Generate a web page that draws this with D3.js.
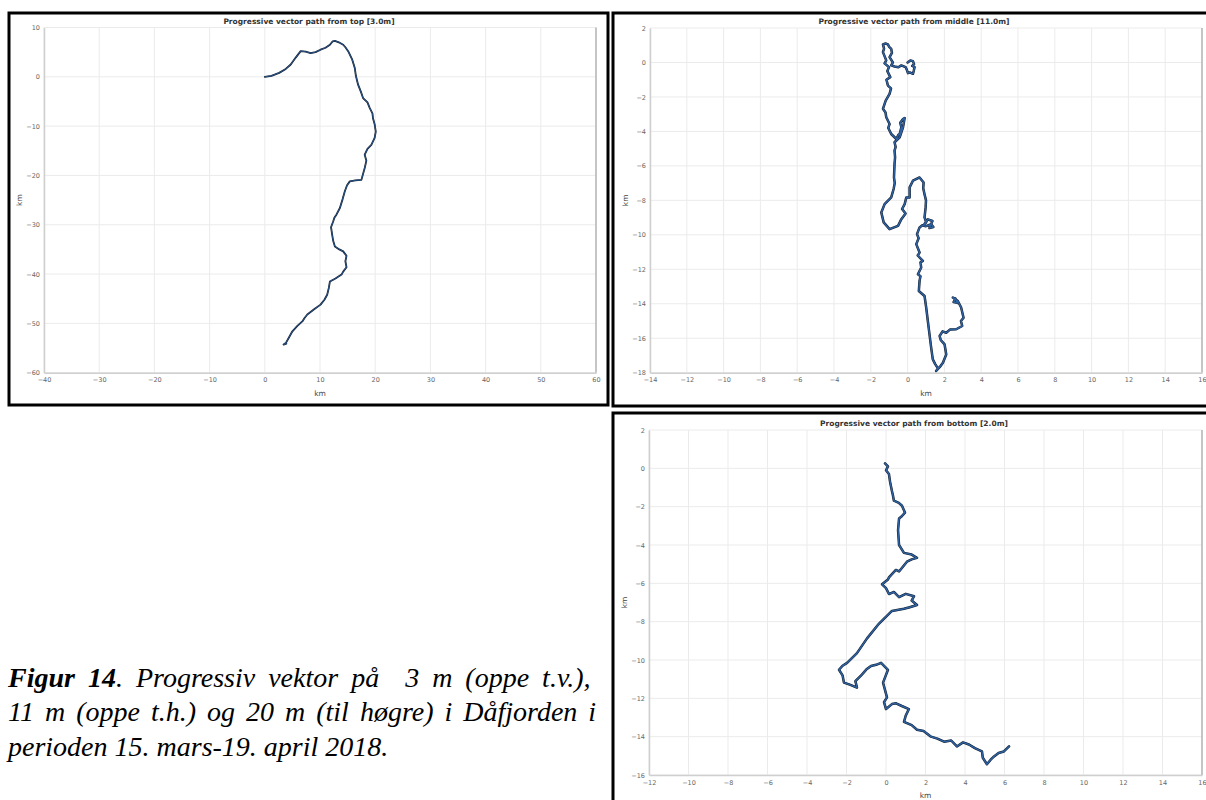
<!DOCTYPE html>
<html>
<head>
<meta charset="utf-8">
<script src="https://cdn.jsdelivr.net/npm/d3@7"></script>
<style>
  body { margin: 0; background: #fff; }
  svg { display: block; font-family: "DejaVu Sans", sans-serif; }
</style>
</head>
<body>
<svg id="chart" width="1206" height="800"></svg>
<script>
// ---- data (km east / km north) ----
const topX = [0, 1.2, 2.6, 3.8, 4.7, 5.6, 6.5, 7.4, 8.3, 9.2, 10.1, 11.0, 11.8, 12.3, 12.7, 13.4, 14.2, 14.6, 15.1, 15.8, 16.3, 16.5, 16.9, 17.4, 17.8, 18.6, 19.0, 19.5, 19.6, 19.9, 20.1, 19.9, 19.3, 18.6, 18.1, 18.4, 18.1, 17.5, 16.4, 15.4, 14.9, 14.5, 14.1, 13.6, 13.0, 12.6, 12.4, 12.0, 12.2, 12.4, 12.7, 13.5, 14.2, 14.8, 14.6, 14.8, 14.2, 13.9, 12.8, 11.8, 11.6, 11.3, 10.8, 10.1, 9.0, 7.7, 7.2, 6.8, 5.9, 5.0, 4.4, 3.8, 3.4, 3.9];
const topY = [0, 0.2, 0.8, 1.6, 2.5, 3.9, 5.2, 5.1, 4.8, 5.0, 5.5, 5.9, 6.5, 7.2, 7.3, 7.0, 6.5, 6.0, 5.2, 3.6, 1.8, 0.2, -1.6, -3.0, -4.3, -5.2, -6.3, -7.4, -8.4, -9.6, -11.1, -12.4, -13.8, -14.6, -15.8, -17.0, -18.5, -20.9, -21.0, -21.2, -22.0, -23.2, -24.8, -26.6, -27.9, -28.6, -29.3, -30.5, -32.0, -33.3, -34.4, -35.0, -35.4, -36.3, -37.4, -38.6, -39.5, -40.1, -40.9, -41.5, -42.8, -44.2, -45.2, -46.2, -47.1, -48.2, -48.9, -49.6, -50.5, -51.6, -52.8, -54.0, -54.3, -54.1];

const midX = [0, 0.15, 0.29, 0.35, 0.25, 0.38, 0.33, 0.29, 0.12, 0.02, -0.05, -0.11, -0.34, -0.5, -0.71, -0.89, -0.8, -0.98, -0.85, -0.89, -1.0, -1.07, -1.2, -1.34, -1.28, -1.34, -1.16, -1.25, -1.01, -1.1, -0.94, -1.15, -1.07, -0.9, -0.98, -1.19, -1.34, -1.2, -1.16, -0.98, -1.05, -0.89, -0.61, -0.5, -0.43, -0.34, -0.4, -0.25, -0.16, -0.25, -0.43, -0.71, -0.65, -0.71, -0.68, -0.71, -0.74, -0.7, -0.76, -0.89, -1.25, -1.43, -1.30, -0.98, -0.52, -0.34, -0.11, -0.3, -0.16, -0.07, 0.11, 0.11, 0.29, 0.65, 0.87, 0.85, 0.92, 1.0, 0.98, 0.92, 1.01, 0.9, 1.1, 1.35, 1.28, 1.4, 1.19, 1.25, 1.0, 0.8, 0.65, 0.51, 0.6, 0.47, 0.65, 0.55, 0.83, 0.7, 0.74, 0.56, 0.7, 0.65, 0.61, 0.92, 1.01, 1.10, 1.19, 1.28, 1.37, 1.5, 1.65, 1.55, 1.8, 1.92, 2.10, 2.01, 1.8, 1.74, 1.9, 2.10, 2.3, 2.64, 2.97, 2.9, 3.04, 2.91, 2.73, 2.46, 2.6, 2.5, 2.7, 2.6];
const midY = [0, 0.12, 0.08, -0.1, -0.2, -0.27, -0.5, -0.66, -0.58, -0.62, -0.4, -0.27, -0.17, -0.28, -0.23, -0.17, 0.0, 0.31, 0.55, 0.79, 0.9, 1.05, 1.1, 1.05, 0.8, 0.60, 0.12, -0.05, -0.27, -0.5, -0.85, -1.0, -1.34, -1.5, -1.82, -2.21, -2.69, -2.9, -3.18, -3.57, -3.8, -4.15, -4.44, -4.2, -4.15, -3.76, -3.5, -3.28, -3.22, -3.76, -4.34, -4.63, -4.9, -5.12, -5.5, -5.89, -6.67, -7.0, -7.34, -7.83, -8.22, -8.70, -9.28, -9.67, -9.48, -9.09, -8.76, -8.5, -8.22, -7.83, -7.83, -7.25, -6.86, -6.67, -6.96, -7.3, -7.64, -8.0, -8.41, -8.99, -9.28, -9.4, -9.1, -9.2, -9.38, -9.55, -9.61, -9.4, -9.5, -9.45, -9.57, -9.96, -10.2, -10.54, -11.03, -11.2, -11.51, -11.6, -11.90, -12.29, -12.4, -12.67, -13.26, -13.55, -14.22, -15.00, -15.78, -16.55, -17.23, -17.5, -17.75, -17.9, -17.6, -17.42, -16.94, -16.36, -16.1, -15.87, -15.6, -15.68, -15.5, -15.48, -15.29, -15.0, -14.81, -14.22, -13.84, -13.64, -13.7, -13.9, -13.95, -13.7];

const botX = [-0.05, 0.1, 0.0, 0.15, 0.2, 0.3, 0.35, 0.4, 0.65, 0.81, 0.96, 0.8, 0.66, 0.61, 0.66, 0.91, 1.3, 1.57, 1.3, 1.06, 0.66, 0.5, 0.15, 0.1, -0.2, 0.0, 0.15, 0.4, 0.66, 1.0, 1.42, 1.3, 1.57, 1.2, 0.91, 0.3, -0.35, -0.96, -1.47, -1.97, -2.2, -2.38, -2.2, -2.13, -1.8, -1.47, -1.55, -1.27, -1.0, -0.76, -0.5, -0.25, 0.1, -0.15, 0.05, -0.1, 0, 0.3, 0.51, 0.8, 1.16, 1.0, 0.91, 1.3, 1.57, 1.9, 2.28, 2.6, 2.94, 3.3, 3.59, 3.9, 4.2, 4.5, 4.86, 4.9, 5.11, 5.3, 5.47, 5.7, 5.97, 6.23];
const botY = [0.26, 0.1, -0.1, -0.3, -0.67, -1.18, -1.4, -1.69, -1.8, -1.95, -2.31, -2.5, -2.62, -3.23, -4.0, -4.41, -4.5, -4.67, -4.75, -4.87, -5.38, -5.3, -5.69, -5.8, -6.05, -6.25, -6.56, -6.45, -6.72, -6.55, -6.67, -6.9, -7.13, -7.25, -7.33, -7.44, -8.1, -8.87, -9.64, -10.15, -10.3, -10.51, -10.8, -11.18, -11.3, -11.44, -11.1, -10.82, -10.5, -10.31, -10.25, -10.15, -10.51, -11.18, -11.95, -12.2, -12.56, -12.3, -12.26, -12.4, -12.56, -12.9, -13.23, -13.4, -13.64, -13.7, -14.0, -14.1, -14.26, -14.2, -14.51, -14.3, -14.41, -14.6, -14.77, -15.1, -15.44, -15.2, -15.03, -14.85, -14.77, -14.51];

// ---- tick values ----
const topXTicks = [-40, -30, -20, -10, 0, 10, 20, 30, 40, 50, 60];
const topYTicks = [10, 0, -10, -20, -30, -40, -50, -60];
const midXTicks = [-14, -12, -10, -8, -6, -4, -2, 0, 2, 4, 6, 8, 10, 12, 14, 16];
const midYTicks = [2, 0, -2, -4, -6, -8, -10, -12, -14, -16, -18];
const botXTicks = [-12, -10, -8, -6, -4, -2, 0, 2, 4, 6, 8, 10, 12, 14, 16];
const botYTicks = [2, 0, -2, -4, -6, -8, -10, -12, -14, -16];

const titles = [
  "Progressive vector path from top [3.0m]",
  "Progressive vector path from middle [11.0m]",
  "Progressive vector path from bottom [2.0m]"
];

const svg = d3.select('#chart');

function panel(o) {
  const g = svg.append('g');

  // black frame
  g.append('rect')
    .attr('x', o.box[0]).attr('y', o.box[1])
    .attr('width', o.box[2]).attr('height', o.box[3])
    .attr('fill', '#fff').attr('stroke', '#000').attr('stroke-width', 3);

  const x = d3.scaleLinear().domain(o.xDomain).range(o.xRange);
  const y = d3.scaleLinear().domain(o.yDomain).range(o.yRange);
  const top = o.yRange[1], bottom = o.yRange[0];
  const left = o.xRange[0], right = o.xRange[1];

  // grid
  g.append('g').selectAll('line').data(o.xTicks).join('line')
    .attr('x1', d => x(d)).attr('x2', d => x(d))
    .attr('y1', top).attr('y2', bottom)
    .attr('stroke', '#ebebeb').attr('stroke-width', 1);
  g.append('g').selectAll('line').data(o.yTicks).join('line')
    .attr('x1', left).attr('x2', right)
    .attr('y1', d => y(d)).attr('y2', d => y(d))
    .attr('stroke', '#ebebeb').attr('stroke-width', 1);

  // right edge of plot
  g.append('line')
    .attr('x1', right).attr('x2', right).attr('y1', top).attr('y2', bottom)
    .attr('stroke', '#b5b5b5').attr('stroke-width', 1.5);

  // axes
  const xa = g.append('g')
    .attr('transform', `translate(0,${bottom})`)
    .call(d3.axisBottom(x).tickValues(o.xTicks).tickSize(0).tickPadding(5));
  const ya = g.append('g')
    .attr('transform', `translate(${left},0)`)
    .call(d3.axisLeft(y).tickValues(o.yTicks).tickSize(0).tickPadding(4));
  [xa, ya].forEach(a => {
    a.select('.domain').attr('stroke', '#cfcfcf').attr('stroke-width', 1.5);
    a.selectAll('text').attr('fill', '#666').attr('font-size', 6.5).attr('font-family', '"DejaVu Sans", sans-serif');
  });

  // labels
  g.append('text')
    .attr('x', o.titleX).attr('y', o.titleY)
    .attr('text-anchor', 'middle').attr('font-size', 7.5).attr('font-weight', 'bold')
    .attr('fill', '#333').text(o.title);
  g.append('text')
    .attr('x', (left + right) / 2).attr('y', bottom + 23)
    .attr('text-anchor', 'middle').attr('font-size', 7.5).attr('fill', '#444').text('km');
  g.append('text')
    .attr('transform', `translate(${o.yLabelX},${(top + bottom) / 2}) rotate(-90)`)
    .attr('text-anchor', 'middle').attr('font-size', 7.5).attr('fill', '#444').text('km');

  // path
  const pts = o.xs.map((d, i) => [d, o.ys[i]]);
  const line = d3.line().x(d => x(d[0])).y(d => y(d[1]));
  g.append('path').datum(pts).attr('d', line)
    .attr('fill', 'none').attr('stroke', '#121e30').attr('stroke-width', o.w + 1)
    .attr('stroke-linejoin', 'round').attr('stroke-linecap', 'round');
  g.append('path').datum(pts).attr('d', line)
    .attr('fill', 'none').attr('stroke', '#2f62a0').attr('stroke-width', o.w)
    .attr('stroke-linejoin', 'round').attr('stroke-linecap', 'round');
}

panel({
  box: [9, 13, 599, 392],
  xDomain: [-40, 60], xRange: [44, 596],
  yDomain: [-60, 10], yRange: [372.7, 27.5],
  xTicks: topXTicks, yTicks: topYTicks,
  title: titles[0], titleX: 309, titleY: 24, yLabelX: 22,
  xs: topX, ys: topY, w: 0.8
});

panel({
  box: [613, 13, 600, 393],
  xDomain: [-14, 16], xRange: [650, 1202],
  yDomain: [-18, 2], yRange: [372.7, 28],
  xTicks: midXTicks, yTicks: midYTicks,
  title: titles[1], titleX: 914, titleY: 24, yLabelX: 628,
  xs: midX, ys: midY, w: 1.5
});

panel({
  box: [613, 413, 600, 400],
  xDomain: [-12, 16], xRange: [649, 1202],
  yDomain: [-16, 2], yRange: [775, 430],
  xTicks: botXTicks, yTicks: botYTicks,
  title: titles[2], titleX: 914, titleY: 426, yLabelX: 627,
  xs: botX, ys: botY, w: 1.5
});

// caption (justified lines 1-2 via word spacing)
const cap = svg.append('text')
  .attr('font-family', '"Liberation Serif", "Times New Roman", serif')
  .attr('font-size', 28).attr('font-style', 'italic').attr('fill', '#000')
  .style('white-space', 'pre');
const l1 = cap.append('tspan').attr('x', 8).attr('y', 687).style('word-spacing', '6px');
l1.append('tspan').attr('font-weight', 'bold').text('Figur 14');
l1.append('tspan').text('. Progressiv vektor på  3 m (oppe t.v.),');
cap.append('tspan').attr('x', 8).attr('y', 721).style('word-spacing', '4px')
  .text('11 m (oppe t.h.) og 20 m (til høgre) i Dåfjorden i');
cap.append('tspan').attr('x', 8).attr('y', 756).text('perioden 15. mars-19. april 2018.');
</script>
</body>
</html>
